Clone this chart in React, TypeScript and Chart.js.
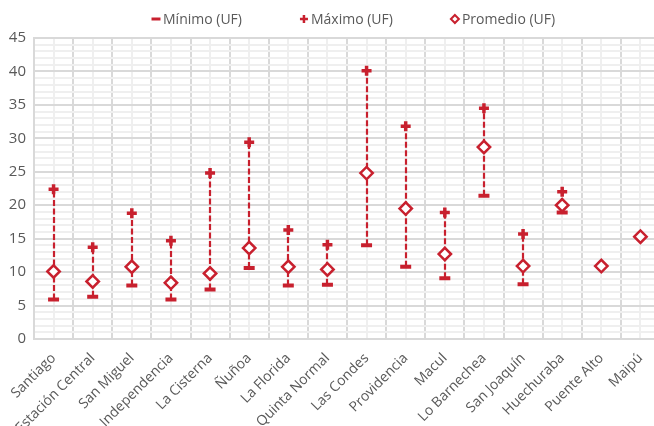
import React, { useEffect, useRef } from "react";
import { Chart, registerables } from "chart.js";

Chart.register(...registerables);

const categories = [
  "Santiago",
  "Estación Central",
  "San Miguel",
  "Independencia",
  "La Cisterna",
  "Ñuñoa",
  "La Florida",
  "Quinta Normal",
  "Las Condes",
  "Providencia",
  "Macul",
  "Lo Barnechea",
  "San Joaquín",
  "Huechuraba",
  "Puente Alto",
  "Maipú",
];

const minimo: (number | null)[] = [5.9, 6.3, 8.0, 5.9, 7.4, 10.6, 8.0, 8.1, 14.0, 10.8, 9.1, 21.4, 8.2, 18.9, null, null];
const maximo: (number | null)[] = [22.4, 13.7, 18.8, 14.7, 24.8, 29.4, 16.3, 14.1, 40.1, 31.8, 18.9, 34.5, 15.7, 22.0, null, null];
const promedio: (number | null)[] = [10.1, 8.6, 10.8, 8.4, 9.8, 13.6, 10.8, 10.4, 24.8, 19.5, 12.7, 28.7, 10.9, 20.0, 10.9, 15.3];

const legendLabels = ["Mínimo (UF)", "Máximo (UF)", "Promedio (UF)"];

const RED = "#c8202e";
const TEXT = "#595959";
const FONT = "'Open Sans', sans-serif";

const hiLoPlugin = {
  id: "hiLo",
  beforeDatasetsDraw(chart: any) {
    const { ctx, scales } = chart;
    const x = scales.x;
    const y = scales.y;
    ctx.save();
    ctx.strokeStyle = RED;
    ctx.lineWidth = 2.2;
    ctx.setLineDash([6, 2.5]);
    for (let i = 0; i < categories.length; i++) {
      const lo = minimo[i];
      const hi = maximo[i];
      if (lo == null || hi == null) continue;
      const px = Math.round(x.getPixelForValue(i));
      ctx.beginPath();
      ctx.moveTo(px, y.getPixelForValue(lo));
      ctx.lineTo(px, y.getPixelForValue(hi));
      ctx.stroke();
    }
    ctx.restore();
  },
};

const legendPlugin = {
  id: "customLegend",
  afterDraw(chart: any) {
    const { ctx } = chart;
    ctx.save();
    ctx.font = `14px ${FONT}`;
    ctx.textBaseline = "middle";
    ctx.textAlign = "left";
    const cy = 19;
    let x = 150;
    legendLabels.forEach((label, k) => {
      const mx = x + 6;
      ctx.strokeStyle = RED;
      ctx.fillStyle = "#ffffff";
      if (k === 0) {
        ctx.lineWidth = 3;
        ctx.beginPath();
        ctx.moveTo(mx - 4.5, cy);
        ctx.lineTo(mx + 4.5, cy);
        ctx.stroke();
      } else if (k === 1) {
        ctx.lineWidth = 2.5;
        ctx.beginPath();
        ctx.moveTo(mx - 4, cy);
        ctx.lineTo(mx + 4, cy);
        ctx.moveTo(mx, cy - 4);
        ctx.lineTo(mx, cy + 4);
        ctx.stroke();
      } else {
        ctx.lineWidth = 2;
        ctx.beginPath();
        ctx.moveTo(mx, cy - 4);
        ctx.lineTo(mx + 4, cy);
        ctx.lineTo(mx, cy + 4);
        ctx.lineTo(mx - 4, cy);
        ctx.closePath();
        ctx.fill();
        ctx.stroke();
      }
      ctx.fillStyle = TEXT;
      const tx = x + 13;
      ctx.fillText(label, tx, cy + 1);
      x = tx + ctx.measureText(label).width + 56;
    });
    ctx.restore();
  },
};

export default function App() {
  const ref = useRef<HTMLCanvasElement | null>(null);

  useEffect(() => {
    if (!ref.current) return;
    const chart = new Chart(ref.current, {
      type: "line",
      data: {
        labels: categories,
        datasets: [
          {
            label: legendLabels[0],
            data: minimo,
            showLine: false,
            pointStyle: "line",
            pointRadius: 5.5,
            pointBorderWidth: 4,
            borderColor: RED,
            backgroundColor: RED,
            pointBorderColor: RED,
            order: 3,
          },
          {
            label: legendLabels[1],
            data: maximo,
            showLine: false,
            pointStyle: "cross",
            pointRadius: 5,
            pointBorderWidth: 3.5,
            borderColor: RED,
            backgroundColor: RED,
            pointBorderColor: RED,
            order: 2,
          },
          {
            label: legendLabels[2],
            data: promedio,
            showLine: false,
            pointStyle: "rectRot",
            pointRadius: 6.2,
            pointBorderWidth: 2.5,
            borderColor: RED,
            pointBorderColor: RED,
            pointBackgroundColor: "#ffffff",
            backgroundColor: "#ffffff",
            order: 1,
          },
        ],
      },
      options: {
        animation: false,
        responsive: false,
        layout: { autoPadding: false, padding: { top: 38, left: 0, right: 0, bottom: 0 } },
        plugins: {
          legend: { display: false },
          tooltip: { enabled: false },
        },
        scales: {
          x2: {
            type: "category",
            position: "bottom",
            offset: true,
            grid: { offset: false, color: "#efefef", lineWidth: 2, drawTicks: false },
            border: { display: false },
            ticks: { display: false },
            afterFit: (s: any) => {
              s.height = 0;
              s.paddingLeft = 0;
              s.paddingRight = 0;
            },
          },
          x: {
            type: "category",
            position: "bottom",
            offset: true,
            grid: { offset: true, color: "#d9d9d9", lineWidth: 2, drawTicks: false },
            border: { color: "#d9d9d9", width: 2 },
            ticks: {
              autoSkip: false,
              minRotation: 45,
              maxRotation: 45,
              padding: 11,
              labelOffset: 0,
              color: TEXT,
              font: { family: FONT, size: 14 },
            },
            afterFit: (s: any) => {
              s.height = 87;
              s.paddingLeft = 0;
              s.paddingRight = 0;
            },
          },
          y: {
            min: 0,
            max: 45,
            grid: {
              drawTicks: false,
              color: (c: any) => (c.tick && c.tick.value % 5 === 0 ? "#d9d9d9" : "#efefef"),
              lineWidth: 2,
            },
            border: { color: "#d9d9d9", width: 2 },
            ticks: {
              stepSize: 1,
              autoSkip: false,
              padding: 8,
              color: TEXT,
              font: { family: FONT, size: 15 },
              callback: (v: any) => (Number(v) % 5 === 0 ? String(v) : ""),
            },
            afterFit: (s: any) => {
              s.width = 34;
              s.paddingTop = 0;
              s.paddingBottom = 0;
            },
          },
        },
      },
      plugins: [hiLoPlugin, legendPlugin],
    });
    return () => chart.destroy();
  }, []);

  return (
    <div
      style={{
        position: "absolute",
        left: 0,
        top: 0,
        width: 654,
        height: 426,
        overflow: "hidden",
        background: "#ffffff",
      }}
    >
      <canvas ref={ref} width={660} height={426} style={{ display: "block" }} />
    </div>
  );
}
